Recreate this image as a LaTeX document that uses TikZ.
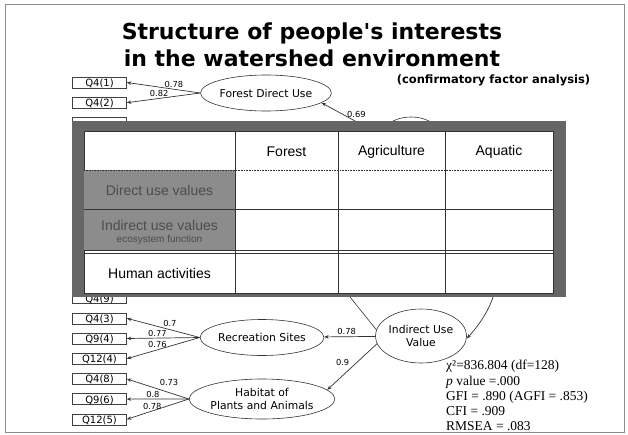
\documentclass[tikz,border=0pt]{standalone}
\usepackage{fontspec}
\setmainfont{Liberation Sans}
\newfontfamily\titlefont{DejaVu Sans}
\newfontfamily\semfont{DejaVu Sans}
\newfontfamily\statfont{Liberation Serif}
\usetikzlibrary{shapes.geometric, arrows.meta, positioning}
\tikzset{
  frameline/.style={draw=black!45,line width=0.6pt},
  title/.style={font=\titlefont\bfseries\fontsize{22}{22}\selectfont,inner sep=0pt},
  subtitle/.style={font=\titlefont\bfseries\fontsize{11.5}{11.5}\selectfont,inner sep=0pt},
  obsbox/.style={rectangle,draw=black!75,line width=0.6pt,fill=white,minimum width=54pt,
    minimum height=11pt,text height=8pt,text depth=0pt,inner sep=0pt,
    font=\semfont\fontsize{10}{10}\selectfont},
  latent/.style={ellipse,draw=black!80,line width=0.6pt,fill=white,inner sep=0pt,
    align=center,font=\semfont\fontsize{10.8}{12.5}\selectfont},
  load/.style={font=\semfont\fontsize{8.3}{8.3}\selectfont,inner sep=1.5pt},
  arrow/.style={-{Stealth[length=4.5pt,width=3.5pt]},line width=0.7pt,draw=black!80},
  plainline/.style={line width=0.6pt,draw=black!80},
  gridline/.style={line width=0.6pt,draw=black!80},
  cell/.style={font=\fontsize{14}{14}\selectfont,inner sep=0pt},
  graycell/.style={cell,text=black!70},
  stats/.style={font=\statfont\fontsize{13.5}{15.3}\selectfont,align=left,inner sep=0pt}
}
\begin{document}
\begin{tikzpicture}[x=1pt,y=-1pt,node distance=8.6pt]
  \useasboundingbox (0,0) rectangle (628,434);
  \draw[frameline] (5,4) rectangle (624,432);

  % title
  \node[title,anchor=base] (title1) at (312,39) {Structure of people's interests};
  \node[title,anchor=base] (title2) at (312,66) {in the watershed environment};
  \node[subtitle] (cfa) at (493.5,80) {(confirmatory factor analysis)};

  % observed variables
  \node[obsbox] (q41) at (99.5,82.5) {Q4(1)};
  \node[obsbox, below=of q41] (q42) {Q4(2)};
  \node[obsbox, below=of q42] (qhid) {};
  \node[obsbox] (q49) at (99.5,298.1) {Q4(9)};
  \node[obsbox, below=of q49] (q43) {Q4(3)};
  \node[obsbox, below=of q43] (q94) {Q9(4)};
  \node[obsbox, below=of q94] (q124) {Q12(4)};
  \node[obsbox, below=of q124] (q48) {Q4(8)};
  \node[obsbox, below=of q48] (q96) {Q9(6)};
  \node[obsbox, below=of q96] (q125) {Q12(5)};

  % latent factors
  \node[latent, minimum width=107pt, minimum height=36pt] (fdu) at (266,93) {Forest Direct Use};
  \node[latent, minimum width=60pt, minimum height=40pt] (dvu) at (411,137) {};
  \node[latent, minimum width=108pt, minimum height=36pt] (rec) at (262,337.5) {Recreation Sites};
  \node[latent, minimum width=110pt, minimum height=40pt] (hab) at (262,399) {Habitat of\\ Plants and Animals};
  \node[latent, minimum width=70pt, minimum height=54pt] (ind) at (421,336) {Indirect Use\\ Value};

  \coordinate (dvtop) at (355,121);
  \coordinate (ivl) at (350,297);
  \coordinate (ivr) at (493,297);

  \draw[arrow] (fdu.west) -- node[load,pos=0.36,above]{0.78} (q41.east);
  \draw[arrow] (fdu.west) -- node[load,pos=0.56,above]{0.82} (q42.east);
  \draw[arrow] (dvtop) -- node[load,pos=0.35,right,xshift=2pt]{0.69} (fdu.-10);

  \draw[arrow] (rec.west) -- node[load,pos=0.41,above,yshift=1pt]{0.7} (q43.east);
  \draw[arrow] (rec.west) -- node[load,pos=0.58,above]{0.77} (q94.east);
  \draw[arrow] (rec.west) -- node[load,pos=0.58,above]{0.76} (q124.east);
  \draw[arrow] (hab.west) -- node[load,pos=0.32,above,yshift=5pt]{0.73} (q48.east);
  \draw[arrow] (hab.west) -- node[load,pos=0.58,above]{0.8} (q96.east);
  \draw[arrow] (hab.west) -- node[load,pos=0.59,above]{0.78} (q125.east);
  \draw[arrow] (ind) -- node[load,pos=0.56,above]{0.78} (rec);
  \draw[arrow] (ind.190) -- node[load,pos=0.52,above left]{0.9} (hab.8);

  % overlay table
  \fill[black!60] (72,121) rectangle (566,297);
  \draw[gridline,fill=white] (84,131) rectangle (553,293);
  \fill[black!45] (84,170) rectangle (235,250);
  \draw[gridline,densely dotted] (84,170) -- (553,170);
  \draw[gridline] (84,209) -- (553,209);
  \draw[gridline] (84,250) -- (553,250);
  \draw[gridline] (84,253) -- (553,253);
  \draw[gridline] (235,131) -- (235,293) (338,131) -- (338,293) (445,131) -- (445,293);

  \node[cell] (hforest) at (286.5,152) {Forest};
  \node[cell] (hagri) at (391.5,152) {Agriculture};
  \node[cell] (haqua) at (499,152) {Aquatic};
  \node[graycell] (direct) at (159.5,190) {Direct use values};
  \node[graycell] (indirect) at (159.5,225) {Indirect use values};
  \node[graycell,font=\fontsize{10}{10}\selectfont] (ecofn) at (159.5,239.5) {ecosystem function};
  \node[cell] (human) at (159.5,273) {Human activities};

  \draw[plainline] (ivl) -- (ind.172);
  \draw[arrow] (ivr) .. controls (487,316) and (472,333) .. (ind.-3);

  % fit indices
  \node[stats,anchor=north west] (fit) at (446,360)
    {χ²=836.804 (df=128)\\ \textit{p} value =.000\\ GFI = .890 (AGFI = .853)\\ CFI = .909\\ RMSEA = .083};
\end{tikzpicture}
\end{document}
